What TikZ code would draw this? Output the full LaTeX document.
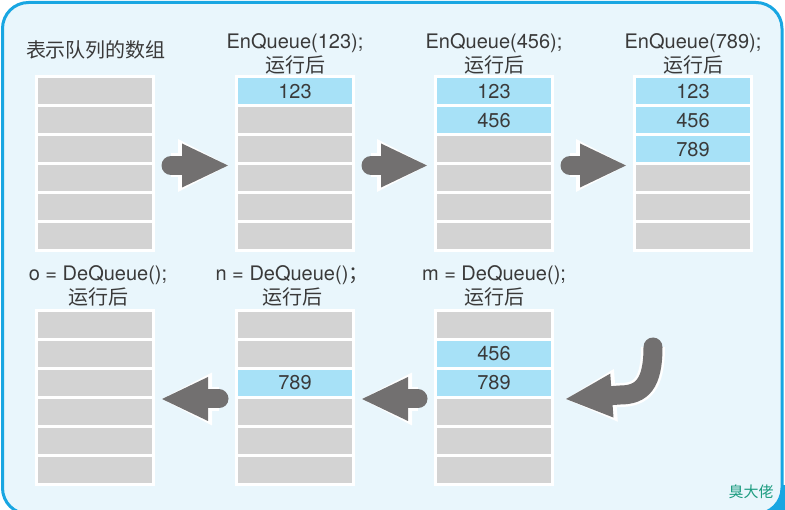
\documentclass[tikz,border=0pt]{standalone}
\usepackage{fontspec}
\setmainfont{TeX Gyre Heros}
\newfontfamily\cjk{Noto Sans CJK SC}
\usetikzlibrary{arrows.meta,calc}
\definecolor{bgblue}{HTML}{E9F6FC}
\definecolor{frameblue}{HTML}{18A6E2}
\definecolor{cellgray}{HTML}{D3D3D3}
\definecolor{cellblue}{HTML}{A7E1F7}
\definecolor{arrgray}{HTML}{727070}
\definecolor{txtgray}{HTML}{3A3A3A}
\definecolor{markgreen}{HTML}{1C9C80}
\tikzset{
  cell/.style={draw=white,line width=3pt,fill=cellgray,minimum width=117pt,minimum height=29pt,inner sep=0pt,
    text=txtgray,font=\fontsize{20}{24}\selectfont},
  used/.style={cell,fill=cellblue},
  lbl/.style={align=center,text=txtgray,font=\fontsize{20}{24}\selectfont},
  blockarrow/.style={draw=arrgray,line width=19pt,line cap=round,
    -{Triangle[length=46pt 0 0,width=44pt 0 0,line width=0pt 0 0]},
    preaction={draw=white,line width=24pt,-{Triangle[length=50pt 0 0,width=53pt 0 0,line width=0pt 0 0]}}}
}
\begin{document}
\begin{tikzpicture}[x=1pt,y=-1pt]
	\useasboundingbox (0,0) rectangle (785,510);
	% frame
	\fill[frameblue] (760,485) rectangle (785,510);
	\draw[fill=bgblue,draw=frameblue,line width=3pt,rounded corners=26pt] (2.5,2.5) rectangle (782,514);
	% queues: name/x/y/first used row/last used row
	\foreach \col/\cx/\cy/\first/\last in {q/95/91.5/1/0,a/295/91.5/1/1,b/494/91.5/1/2,c/693/91.5/1/3,
		m/494/325/2/3,n/295/325/3/3,o/95/325/1/0}
	\foreach \r in {1,...,6}{
		\pgfmathtruncatemacro\val{333*\r-210}
		\ifnum\r<\first \def\sty{cell}\def\txt{}\else\ifnum\r>\last \def\sty{cell}\def\txt{}\else\def\sty{used}\let\txt\val\fi\fi
		\node[\sty] (\col\r) at (\cx,\cy+29*\r-29) {\txt};
	}
	% labels
	\node[lbl] (tq) at (96,50) {\cjk 表示队列的数组};
	\foreach \col/\cx/\num in {a/295/123,b/494/456,c/693/789}
		\node[lbl] (t\col) at (\cx,54) {EnQueue(\num);\\{\cjk 运行后}};
	\node[lbl] (tm) at (494,286) {m = DeQueue();\\{\cjk 运行后}};
	\node[lbl] (tn) at (292,286) {n = DeQueue(){\cjk ；}\\{\cjk 运行后}};
	\node[lbl] (to) at (98,286) {o = DeQueue();\\{\cjk 运行后}};
	% arrows
	\draw[blockarrow] ($(q3.south east)+(16,0)$) -- ($(a3.south west)+(-7,0)$);
	\draw[blockarrow] ($(a3.south east)+(16,0)$) -- ($(b3.south west)+(-7,0)$);
	\draw[blockarrow] ($(b3.south east)+(16,0)$) -- ($(c3.south west)+(-7,0)$);
	\coordinate (curl) at (653,347);
	\draw[blockarrow] (curl) .. controls (653,384) and (642,395) .. (620,395) -- ($(m3.south east)+(12,0)$);
	\draw[blockarrow] ($(m3.south west)+(-16,0)$) -- ($(n3.south east)+(7,0)$);
	\draw[blockarrow] ($(n3.south west)+(-16,0)$) -- ($(o3.south east)+(7,0)$);
	\node[text=markgreen,font=\cjk\fontsize{15}{15}\selectfont] (mark) at (751,492) {臭大佬};
\end{tikzpicture}
\end{document}
